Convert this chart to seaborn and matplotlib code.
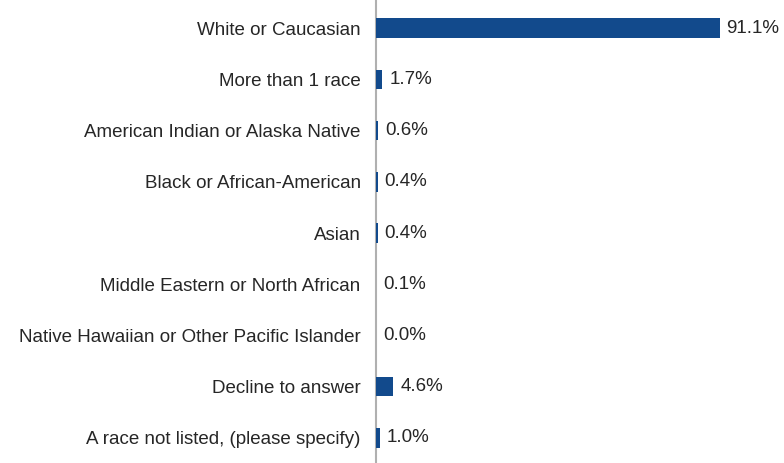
import pandas
import matplotlib.pyplot as plt
import seaborn as sns

categories = [
    "White or Caucasian",
    "More than 1 race",
    "American Indian or Alaska Native",
    "Black or African-American",
    "Asian",
    "Middle Eastern or North African",
    "Native Hawaiian or Other Pacific Islander",
    "Decline to answer",
    "A race not listed, (please specify)",
]
values = [91.1, 1.7, 0.6, 0.4, 0.4, 0.1, 0.0, 4.6, 1.0]

data = pandas.DataFrame({"race": categories, "pct": values})

sns.set_style("white")
plt.rcParams["font.family"] = ["Liberation Sans", "DejaVu Sans"]

fig = plt.figure(figsize=(7.84, 4.63), dpi=100)
ax = fig.add_axes([376 / 784, 0.0, 408 / 784, 1.0])

sns.barplot(data=data, x="pct", y="race", color="#124A8C", width=0.38,
            saturation=1, linewidth=0, ax=ax)

ax.set_xlim(0, 108.2)
ax.set_ylim(8.49, -0.55)
ax.set_xlabel("")
ax.set_ylabel("")
ax.set_xticks([])
ax.tick_params(axis="y", length=0, pad=11, labelsize=13.5, labelcolor="#262626")
for side in ["top", "right", "bottom"]:
    ax.spines[side].set_visible(False)
ax.spines["left"].set_color("#b0b0b0")
ax.spines["left"].set_linewidth(1.5)
ax.spines["left"].set_zorder(0.5)

ax.bar_label(ax.containers[0], labels=[f"{v:.1f}%" for v in values],
             padding=5, fontsize=13.5, color="#262626")

plt.savefig("out.png", dpi=100)
